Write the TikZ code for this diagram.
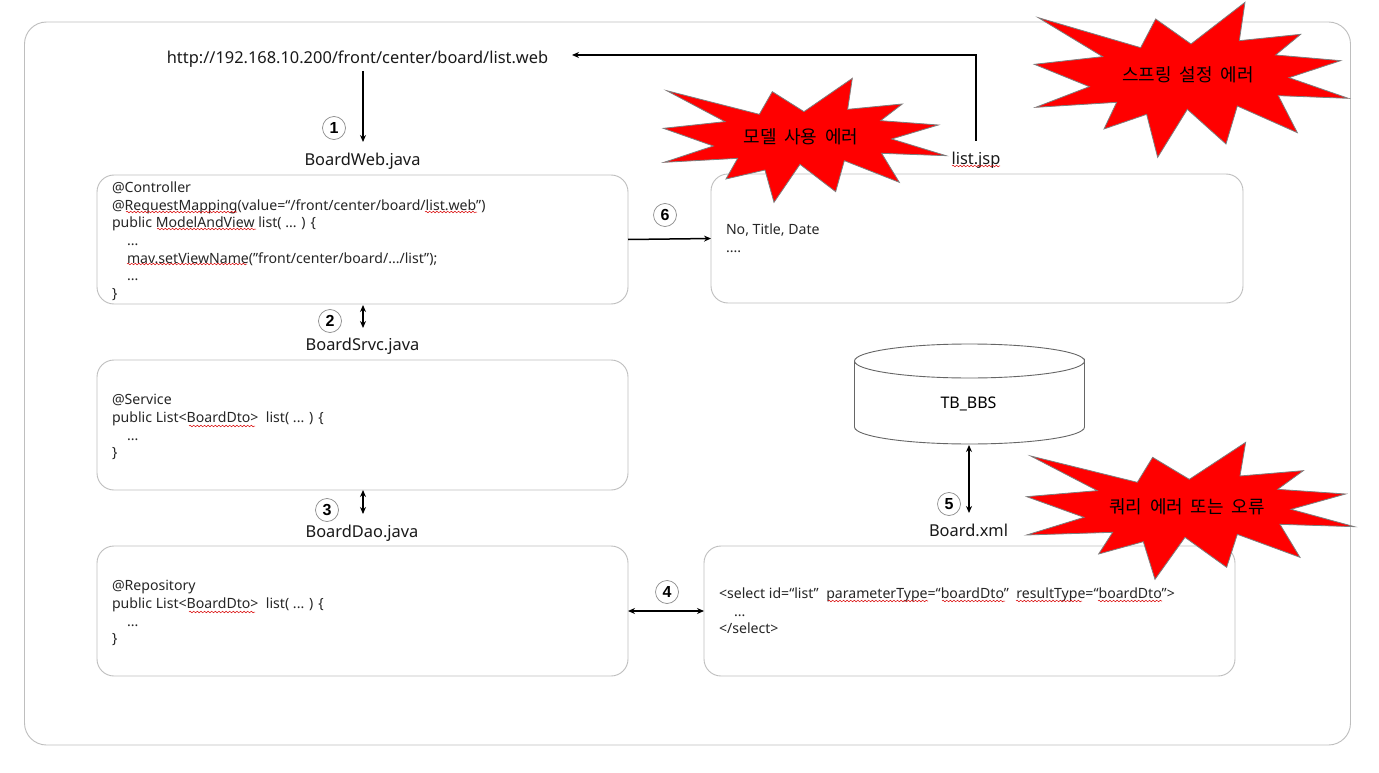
\documentclass[tikz,border=0pt]{standalone}
\usepackage{fontspec}
\usetikzlibrary{arrows.meta,decorations.pathmorphing}
\setmainfont{Noto Sans}
\newfontfamily\krfont[WordSpace=1.9]{Noto Sans CJK KR}
\newfontfamily\numfont{Liberation Sans}
\definecolor{edgegray}{RGB}{190,190,190}
\definecolor{stargray}{RGB}{125,125,125}
\newcommand{\dblsp}{\hspace*{3.8pt}}
\tikzset{
  every node/.style={inner sep=0pt,outer sep=0pt},
  frame/.style={draw=edgegray,line width=0.9pt,rounded corners=22pt},
  codebox/.style={draw=edgegray,line width=0.9pt,rounded corners=17pt,anchor=north west},
  code/.style={anchor=north west,align=left,font=\fontsize{14.1}{17.6}\selectfont,text=black!85},
  title/.style={font=\fontsize{16.4}{18}\selectfont,text=black!90},
  num/.style={circle,draw=black!45,line width=0.7pt,minimum size=23pt,font=\numfont\fontsize{16}{16}\selectfont\bfseries},
  conn/.style={draw=black,line width=1.5pt,-{Stealth[length=7pt,width=6pt]}},
  biconn/.style={draw=black,line width=1.5pt,{Stealth[length=7pt,width=6pt]}-{Stealth[length=7pt,width=6pt]}},
  burst/.style={fill=red,draw=stargray,line width=0.8pt,line join=miter},
  bursttext/.style={font=\krfont\fontsize{18}{20}\selectfont,text=black},
  squig/.style={draw=red!85!black,line width=0.5pt,decorate,decoration={snake,amplitude=0.8pt,segment length=3.6pt}},
}
\begin{document}
\begin{tikzpicture}[x=1pt,y=-1pt]
\useasboundingbox (0,0) rectangle (1379,773);
\fill[white] (0,0) rectangle (1379,773);
% frame
\draw[frame] (24.5,22) rectangle (1350.5,745);
% boxes
\node[codebox,minimum width=531pt,minimum height=129pt] (web) at (97,175) {};
\node[codebox,minimum width=531pt,minimum height=130pt] (srvc) at (97,360) {};
\node[codebox,minimum width=531pt,minimum height=130pt] (dao) at (97,546) {};
\node[codebox,minimum width=532pt,minimum height=129pt] (jsp) at (711,174) {};
\node[codebox,minimum width=531pt,minimum height=130pt] (xml) at (704,546) {};
% cylinder
\draw[draw=black!60,line width=0.9pt,fill=white] (854.5,361) -- (854.5,427) arc[start angle=180,end angle=0,x radius=115,y radius=17] -- (1084.5,361) arc[start angle=0,end angle=360,x radius=115,y radius=17];
\node[font=\fontsize{16}{18}\selectfont] (bbs) at (968.5,404) {TB\_BBS};
% titles
\node[title] (url) at (357.5,59) {http://192.168.10.200/front/center/board/list.web};
\node[title] (tweb) at (362.5,161) {BoardWeb.java};
\node[title] (tsrvc) at (362.5,346) {BoardSrvc.java};
\node[title] (tdao) at (362,533) {BoardDao.java};
\node[title] (tjsp) at (976,160) {list.jsp};
\node[title] (txml) at (968.5,530) {Board.xml};
% code
\node[code] (cweb) at (112,182) {@Controller\\@RequestMapping(value=“/front/center/board/list.web”)\\public ModelAndView list( ... ) \{\\\hspace*{15pt}...\\\hspace*{15pt}mav.setViewName("front/center/board/.../list");\\\hspace*{15pt}...\\\}};
\node[code] (csrvc) at (112,394.5) {@Service\\public List<BoardDto> \dblsp list( ... ) \{\\\hspace*{15pt}...\\\}};
\node[code] (cdao) at (112,580.5) {@Repository\\public List<BoardDto> \dblsp list( ... ) \{\\\hspace*{15pt}...\\\}};
\node[code] (cjsp) at (726,224) {No, Title, Date\\....};
\node[code] (cxml) at (719,588) {<select id=“list” \dblsp parameterType=“boardDto” \dblsp resultType=“boardDto”>\\\hspace*{15pt}...\\</select>};
% spell-check squiggles
\draw[squig] (126,212) -- (237,212);
\draw[squig] (425,212) -- (477,212);
\draw[squig] (157,229) -- (256,229);
\draw[squig] (127,264) -- (247,264);
\draw[squig] (189,426) -- (255,426);
\draw[squig] (189,612) -- (255,612);
\draw[squig] (952,166) -- (1000,166);
\draw[squig] (828,601) -- (928,601);
\draw[squig] (942,601) -- (1005,601);
\draw[squig] (1016,601) -- (1082,601);
\draw[squig] (1098,601) -- (1162,601);
% numbers
\node[num] (n1) at (334,128) {1};
\node[num] (n2) at (330,321) {2};
\node[num] (n3) at (327,510) {3};
\node[num] (n4) at (667,592) {4};
\node[num] (n5) at (949,504) {5};
\node[num] (n6) at (665,215) {6};
% connector ends
\coordinate (urlbot) at (363,71);
\coordinate (webtop) at (363,142);
\coordinate (webbot) at (363,305);
\coordinate (srvctop) at (363,328);
\coordinate (srvcbot) at (363,490);
\coordinate (daotop) at (363,514);
\coordinate (dbbot) at (969,445);
\coordinate (xmltop) at (969,513);
\coordinate (jsptop) at (976,141);
\coordinate (urlright) at (572,55);
% connectors
\draw[conn] (urlbot) -- (webtop);
\draw[biconn] (webbot) -- (srvctop);
\draw[biconn] (srvcbot) -- (daotop);
\draw[biconn] (dao.east) -- (xml.west);
\draw[biconn] (dbbot) -- (xmltop);
\draw[conn] (web.east) -- (jsp.west);
\draw[conn] (jsptop) |- (urlright);
% bursts
\begin{scope}[shift={(650,70)},x=0.3333pt,y=-0.3333pt]
\draw[burst] (50,62)--(328,133)--(367,65)--(462,125)--(607,25)--(593,118)--(757,102)--(692,152)--(865,165)--(725,207)--(888,257)--(695,250)--(748,337)--(583,272)--(557,365)--(450,283)--(372,397)--(345,300)--(228,327)--(263,265)--(42,277)--(190,228)--(40,175)--(225,155)--cycle;
\end{scope}
\begin{scope}[shift={(1020,0)},x=0.3333pt,y=-0.3333pt]
\draw[burst] (55,53)--(362,143)--(407,57)--(513,132)--(675,7)--(658,122)--(842,103)--(767,165)--(962,182)--(807,233)--(985,295)--(775,287)--(832,398)--(652,318)--(618,432)--(502,328)--(413,472)--(380,343)--(252,387)--(290,307)--(47,322)--(208,260)--(43,193)--(248,170)--cycle;
\end{scope}
\begin{scope}[shift={(1010,430)},x=0.3333pt,y=-0.3333pt]
\draw[burst] (62,78)--(382,157)--(428,82)--(538,148)--(707,37)--(690,138)--(880,122)--(803,178)--(1007,192)--(843,238)--(1033,290)--(810,283)--(870,382)--(682,313)--(650,412)--(525,322)--(435,448)--(400,335)--(266,372)--(308,307)--(50,315)--(222,262)--(50,200)--(262,182)--cycle;
\end{scope}
\node[bursttext] (b1) at (801,137) {모델 사용 에러};
\node[bursttext] (b2) at (1188,75) {스프링 설정 에러};
\node[bursttext] (b3) at (1187,507) {쿼리 에러 또는 오류};
\end{tikzpicture}
\end{document}
